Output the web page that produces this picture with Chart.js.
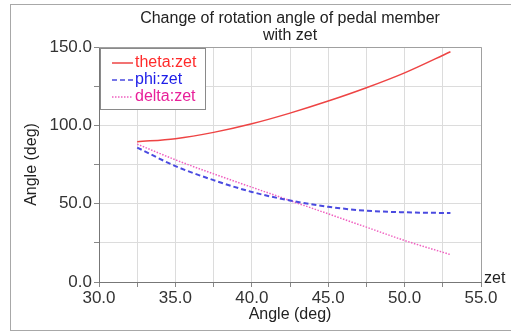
<!DOCTYPE html>
<html>
<head>
<meta charset="utf-8">
<script src="https://cdn.jsdelivr.net/npm/chart.js@4.4.1/dist/chart.umd.min.js"></script>
<style>
  html, body { margin: 0; padding: 0; background: #fff; }
  #wrap { position: relative; width: 511px; height: 331px; overflow: hidden; }
  #frame { position: absolute; left: 10px; top: 4px; width: 520px; height: 325px; border: 1px solid #a8a8a8; }
  #chart { position: absolute; left: 0; top: 0; }
</style>
</head>
<body>
<div id="wrap">
  <div id="frame"></div>
  <canvas id="chart" width="511" height="331"></canvas>
</div>
<script>
// === DATA ===
const zet   = [32.5, 35.0, 37.5, 40.0, 42.5, 45.0, 47.5, 50.0, 53.0];
const theta = [89.5, 91.5, 95.5, 101.0, 107.8, 115.5, 124.0, 133.5, 147.0];
const phi   = [85.8, 74.0, 65.0, 57.5, 52.0, 48.0, 45.5, 44.5, 44.0];
const delta = [88.0, 78.0, 69.0, 60.5, 52.0, 43.5, 35.0, 26.5, 17.5];
const seriesNames = ['theta:zet', 'phi:zet', 'delta:zet'];
const titleLines = ['Change of rotation angle of pedal member', 'with zet'];

const FONT = 'Arial, "Liberation Sans", sans-serif';
const lineColors = ['#ee4444', '#4a4ae0', '#f060c0'];
const textColors = ['#ff2a2a', '#2020e8', '#e8209a'];
const dashes = [[], [5, 3], [1.5, 1.5]];

function pts(ys) {
  return zet.map((x, i) => ({ x: x, y: ys[i] }));
}

// title, frame of plot area, legend box and the "zet" tag
const extras = {
  id: 'extras',
  afterDraw(chart) {
    const c = chart.ctx;
    const a = chart.chartArea;
    c.save();
    // plot frame (top and right)
    c.strokeStyle = '#a0a0a0';
    c.lineWidth = 1;
    c.beginPath();
    c.moveTo(a.left, a.top + 0.5);
    c.lineTo(a.right + 0.5, a.top + 0.5);
    c.lineTo(a.right + 0.5, a.bottom);
    c.stroke();

    // title
    c.fillStyle = '#222';
    c.font = '16px ' + FONT;
    c.textAlign = 'center';
    c.textBaseline = 'alphabetic';
    const cx = (a.left + a.right) / 2;
    c.fillText(titleLines[0], cx, 23);
    c.fillText(titleLines[1], cx, 40);

    // legend
    const bx = 100.5, by = 48.5, bw = 105, bh = 61;
    c.fillStyle = '#fff';
    c.fillRect(bx, by, bw, bh);
    c.strokeStyle = '#8a8a8a';
    c.strokeRect(bx, by, bw, bh);
    c.font = '16px ' + FONT;
    c.textAlign = 'left';
    c.textBaseline = 'middle';
    seriesNames.forEach((name, i) => {
      const y = 63 + i * 17;
      c.strokeStyle = lineColors[i];
      c.lineWidth = 1.5;
      c.setLineDash(dashes[i]);
      c.beginPath();
      c.moveTo(112, y);
      c.lineTo(133, y);
      c.stroke();
      c.setLineDash([]);
      c.fillStyle = textColors[i];
      c.fillText(name, 135, y);
    });

    // axis tag
    c.fillStyle = '#222';
    c.font = '16px ' + FONT;
    c.textAlign = 'left';
    c.textBaseline = 'alphabetic';
    c.fillText('zet', a.right + 3, a.bottom + 1);
    c.restore();
  }
};

new Chart(document.getElementById('chart'), {
  type: 'line',
  data: {
    datasets: [
      { label: seriesNames[0], data: pts(theta), borderColor: lineColors[0], borderWidth: 1.5, borderDash: dashes[0], pointRadius: 0, tension: 0.4, cubicInterpolationMode: 'monotone', fill: false },
      { label: seriesNames[1], data: pts(phi), borderColor: lineColors[1], borderWidth: 2, borderDash: dashes[1], pointRadius: 0, tension: 0.4, cubicInterpolationMode: 'monotone', fill: false },
      { label: seriesNames[2], data: pts(delta), borderColor: lineColors[2], borderWidth: 1.5, borderDash: dashes[2], pointRadius: 0, tension: 0.4, cubicInterpolationMode: 'monotone', fill: false }
    ]
  },
  options: {
    responsive: false,
    animation: false,
    layout: { padding: { left: 0, right: 30, top: 47, bottom: 0 } },
    plugins: { legend: { display: false }, title: { display: false }, tooltip: { enabled: false } },
    scales: {
      x: {
        type: 'linear', min: 30, max: 55,
        afterFit: s => { s.height = 49; },
        grid: { color: '#dcdcdc', tickColor: '#888', tickLength: 5 },
        border: { color: '#777' },
        ticks: {
          stepSize: 2.5, padding: 1, color: '#333', font: { family: FONT, size: 17 },
          maxRotation: 0, autoSkip: false,
          callback: v => (v % 5 === 0 ? v.toFixed(1) : '')
        },
        title: { display: true, text: 'Angle (deg)', color: '#222', font: { family: FONT, size: 16 }, padding: { top: 0, bottom: 7 } }
      },
      y: {
        min: 0, max: 150,
        afterFit: s => { s.width = 99; },
        grid: { color: '#dcdcdc', tickColor: '#888', tickLength: 5 },
        border: { color: '#777' },
        ticks: {
          stepSize: 25, padding: 2, color: '#333', font: { family: FONT, size: 17 },
          autoSkip: false,
          callback: v => (v % 50 === 0 ? v.toFixed(1) : '')
        },
        title: { display: true, text: 'Angle (deg)', color: '#222', font: { family: FONT, size: 16 }, padding: { top: 22, bottom: 0 } }
      }
    }
  },
  plugins: [extras]
});
</script>
</body>
</html>
